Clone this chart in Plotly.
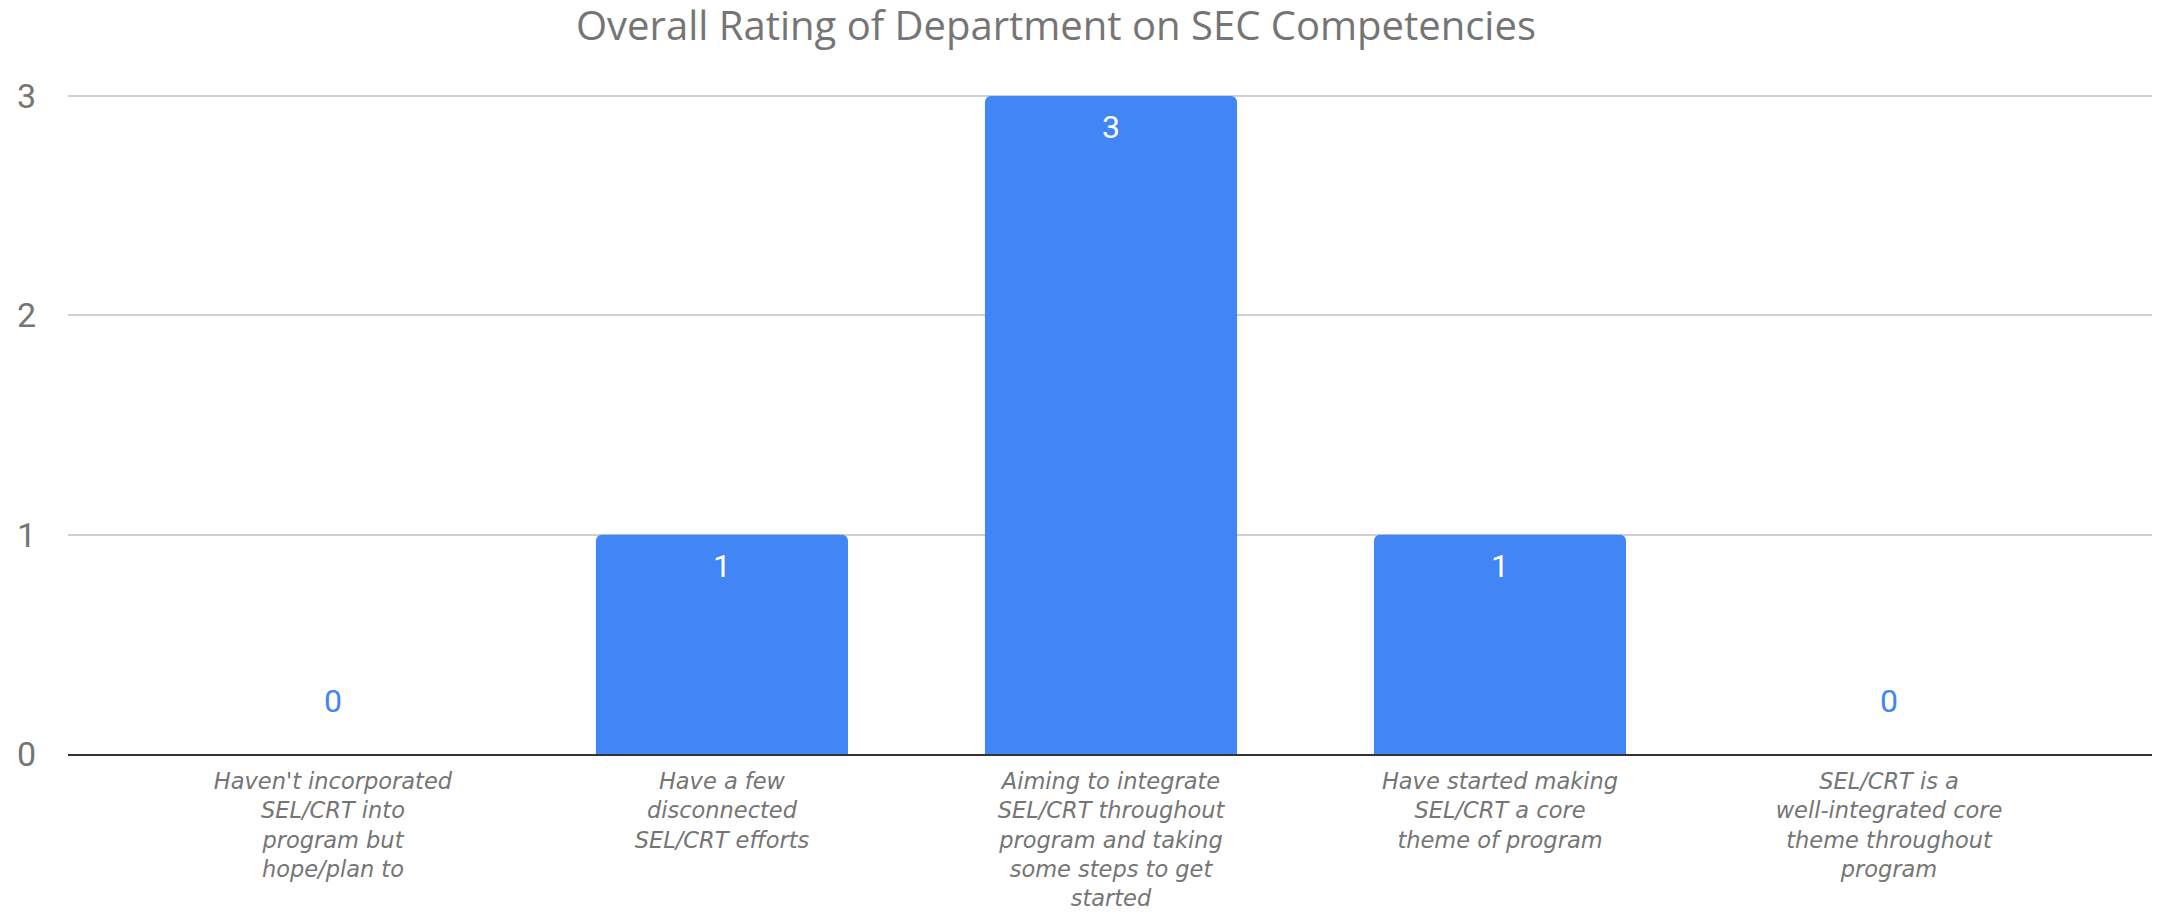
import plotly.graph_objects as go

categories = [
    "Haven't incorporated<br>SEL/CRT into<br>program but<br>hope/plan to",
    "Have a few<br>disconnected<br>SEL/CRT efforts",
    "Aiming to integrate<br>SEL/CRT throughout<br>program and taking<br>some steps to get<br>started",
    "Have started making<br>SEL/CRT a core<br>theme of program",
    "SEL/CRT is a<br>well-integrated core<br>theme throughout<br>program",
]
values = [0, 1, 3, 1, 0]
y_ticks = [0, 1, 2, 3]
title_text = "Overall Rating of Department on SEC Competencies"

BLUE = "#4285F4"
GREY = "#757575"

# page body has an 8px default margin, so the figure is sized to end at the window edge
W, H = 2152, 904

fig = go.Figure()
fig.add_trace(go.Bar(
    x=list(range(len(categories))),
    y=values,
    marker=dict(color=BLUE, cornerradius=6, line=dict(width=0)),
    hoverinfo="skip",
))

for i, v in enumerate(values):
    if v > 0:
        fig.add_annotation(x=i, y=v, text=str(v), showarrow=False, yshift=-31,
                           font=dict(family="Roboto", size=32, color="white"))
    else:
        fig.add_annotation(x=i, y=v, text=str(v), showarrow=False, yshift=53,
                           font=dict(family="Roboto", size=32, color=BLUE))

fig.update_layout(
    width=W, height=H,
    margin=dict(l=60, r=8, t=77, b=158, pad=0, autoexpand=False),
    paper_bgcolor="white", plot_bgcolor="white",
    bargap=0.352,
    showlegend=False,
    title=dict(text=title_text, x=1048 / W, xref="container", xanchor="center",
               y=1 - 4 / H, yref="container", yanchor="top",
               font=dict(family="Open Sans", size=40, color=GREY)),
)
fig.update_xaxes(
    tickmode="array", tickvals=list(range(len(categories))), ticktext=categories,
    range=[-0.681, 4.676], automargin=False,
    showline=True, linecolor="#333333", linewidth=2,
    showgrid=False, zeroline=False, ticks="",
    tickfont=dict(family="DejaVu Sans", size=22.5, color=GREY, style="italic"),
    tickangle=0, ticklabelstandoff=6,
)
fig.update_yaxes(
    range=[0, 3.05], tickmode="array", tickvals=y_ticks, automargin=False,
    showgrid=True, gridcolor="#cfcfcf", gridwidth=2,
    zeroline=False, showline=False, ticks="",
    tickfont=dict(family="Roboto", size=34, color=GREY),
    ticklabelstandoff=31,
)

fig.write_html("out.html")
